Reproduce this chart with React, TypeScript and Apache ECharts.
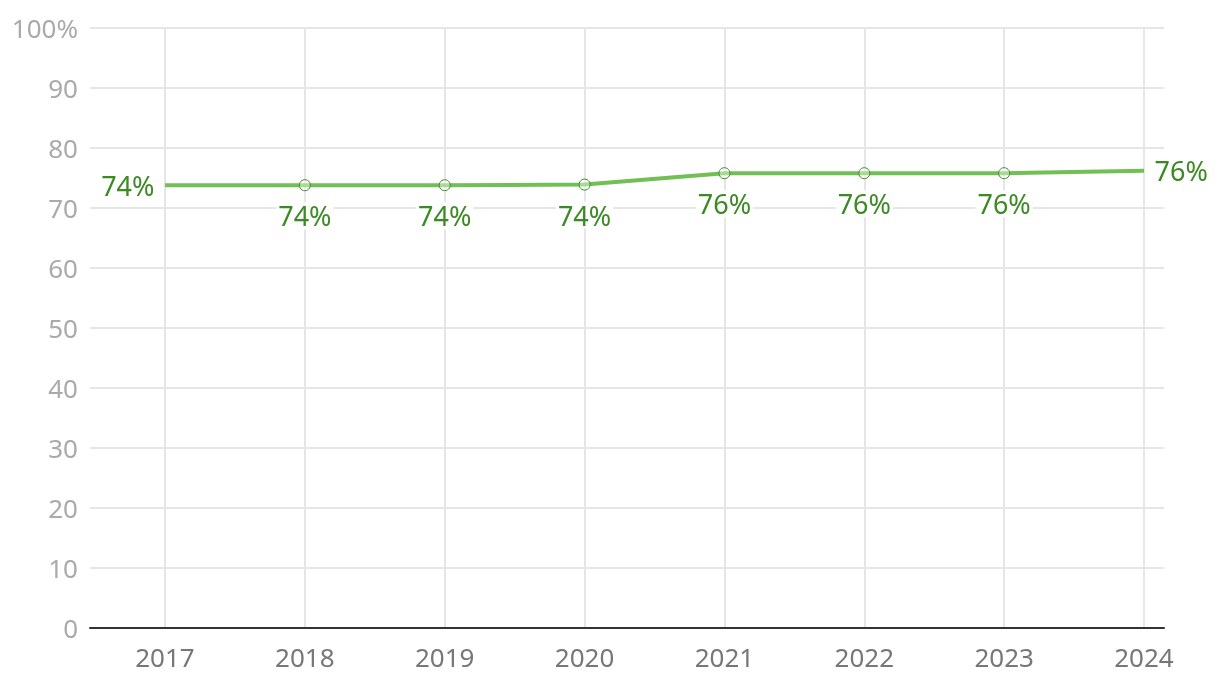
import React, { useEffect, useRef } from "react";
import * as echarts from "echarts";

const years = ["2017", "2018", "2019", "2020", "2021", "2022", "2023", "2024"];
const shares = [73.8, 73.8, 73.8, 73.9, 75.8, 75.8, 75.8, 76.2];
const labels = ["74%", "74%", "74%", "74%", "76%", "76%", "76%", "76%"];

const FONT = "'Source Sans Pro', 'Noto Sans', sans-serif";
const LABEL_GREEN = "#3b8a24";

export default function App() {
  const ref = useRef<HTMLDivElement>(null);
  useEffect(() => {
    if (!ref.current) return;
    const chart = echarts.init(ref.current, null, { renderer: "svg" });
    const last = shares.length - 1;
    chart.setOption({
      animation: false,
      textStyle: { fontFamily: FONT },
      grid: [
        { left: 90, right: 56, top: 28, bottom: 64 },
        { left: 165, right: 76, top: 28, bottom: 64 },
      ],
      xAxis: [
        {
          type: "value",
          gridIndex: 0,
          min: 0,
          max: 1,
          z: 5,
          axisLine: { show: true, lineStyle: { color: "#333", width: 2 } },
          axisTick: { show: false },
          axisLabel: { show: false },
          splitLine: { show: false },
        },
        {
          type: "category",
          gridIndex: 1,
          data: years,
          boundaryGap: false,
          axisLine: { show: false },
          axisTick: { show: false },
          axisLabel: { color: "#777", fontSize: 26, margin: 16, fontFamily: FONT },
          splitLine: { show: true, lineStyle: { color: "#e6e6e6", width: 2 } },
        },
      ],
      yAxis: [
        {
          type: "value",
          gridIndex: 0,
          min: 0,
          max: 100,
          interval: 10,
          axisLine: { show: false },
          axisTick: { show: false },
          axisLabel: {
            color: "#aaa",
            fontSize: 26,
            margin: 12,
            fontFamily: FONT,
            formatter: (v: number) => (v === 100 ? "100%" : String(v)),
          },
          splitLine: { show: true, lineStyle: { color: "#e6e6e6", width: 2 } },
        },
        {
          type: "value",
          gridIndex: 1,
          min: 0,
          max: 100,
          show: false,
          splitLine: { show: false },
        },
      ],
      series: [
        {
          type: "line",
          xAxisIndex: 1,
          yAxisIndex: 1,
          data: shares.map((v, i) => {
            const item: any = { value: v };
            if (i === 0 || i === last) {
              item.symbolSize = 1;
              item.itemStyle = { color: "rgba(0,0,0,0)", borderWidth: 0 };
              item.label = { position: i === 0 ? "left" : "right", distance: 8 };
            }
            return item;
          }),
          symbol: "circle",
          symbolSize: 11,
          showAllSymbol: true,
          lineStyle: { color: "#72bf55", width: 4 },
          itemStyle: { color: "rgba(255,255,255,0.4)", borderColor: "#3b8a24", borderWidth: 1 },
          label: {
            show: true,
            position: "bottom",
            distance: 11,
            color: LABEL_GREEN,
            fontSize: 27,
            fontFamily: FONT,
            backgroundColor: "#fff",
            padding: [0, 2],
            formatter: (p: any) => labels[p.dataIndex],
          },
          emphasis: { disabled: true },
        },
      ],
    });
    return () => chart.dispose();
  }, []);
  return (
    <div
      ref={ref}
      style={{ position: "fixed", left: 0, top: 0, width: 1220, height: 692 }}
    />
  );
}
